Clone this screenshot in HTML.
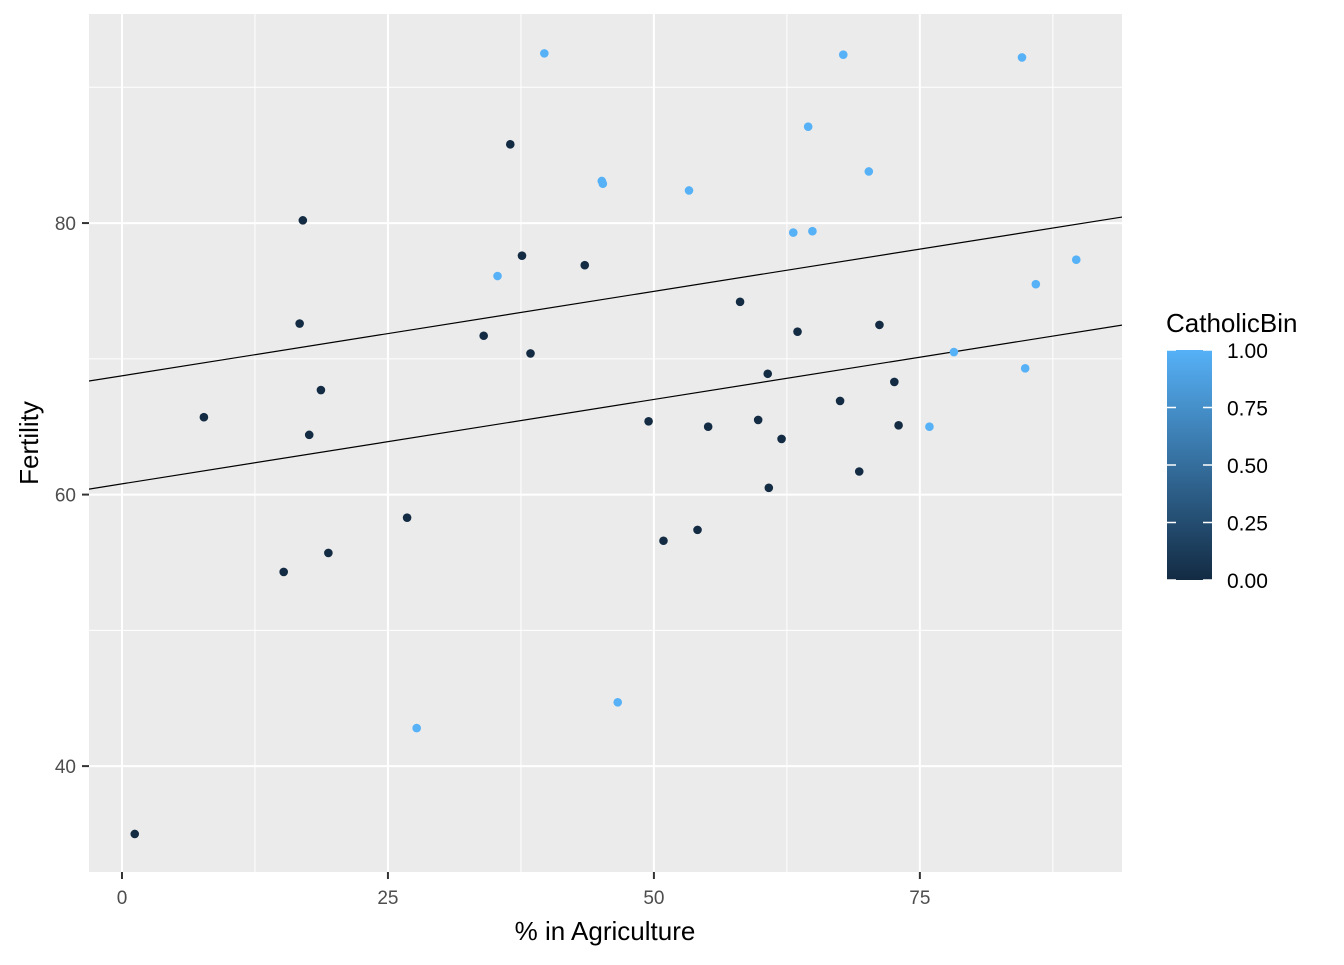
<!DOCTYPE html>
<html><head><meta charset="utf-8"><style>
body{margin:0;background:#fff;font-family:"Liberation Sans",Arial,sans-serif}
</style></head><body>
<svg width="1344" height="960" xmlns="http://www.w3.org/2000/svg">
<defs><linearGradient id="g" x1="0" y1="1" x2="0" y2="0"><stop offset="0" stop-color="#132B43"/><stop offset="1" stop-color="#56B1F7"/></linearGradient>
<clipPath id="cp"><rect x="89" y="14" width="1033" height="858"/></clipPath></defs>
<rect x="89" y="14" width="1033" height="858" fill="#EBEBEB"/>
<g id="grid"></g>
<g id="marks" clip-path="url(#cp)"></g>
<g id="axes"></g>
<text x="605" y="940" font-size="26" text-anchor="middle" fill="#000">% in Agriculture</text>
<text transform="translate(38,443) rotate(-90)" font-size="26" text-anchor="middle" fill="#000">Fertility</text>
<text x="1166" y="332" font-size="26" fill="#000">CatholicBin</text>
<rect x="1167" y="350" width="45" height="230" fill="url(#g)"/>
<g id="legend"></g>
</svg>
<script>
const agri=[17.0,45.1,39.7,36.5,43.5,35.3,70.2,67.8,53.3,45.2,64.5,62.0,67.5,60.7,69.3,72.6,34.0,19.4,15.2,73.0,59.8,55.1,50.9,54.1,71.2,58.1,63.5,60.8,26.8,49.5,85.9,84.9,89.7,78.2,64.9,75.9,84.6,63.1,38.4,7.7,18.7,17.6,16.7,37.6,1.2,46.6,27.7];
const fert=[80.2,83.1,92.5,85.8,76.9,76.1,83.8,92.4,82.4,82.9,87.1,64.1,66.9,68.9,61.7,68.3,71.7,55.7,54.3,65.1,65.5,65.0,56.6,57.4,72.5,74.2,72.0,60.5,58.3,65.4,75.5,69.3,77.3,70.5,79.4,65.0,92.2,79.3,70.4,65.7,67.7,64.4,72.6,77.6,35.0,44.7,42.8];
const cath=[0,1,1,0,0,1,1,1,1,1,1,0,0,0,0,0,0,0,0,0,0,0,0,0,0,0,0,0,0,0,1,1,1,1,1,1,1,1,0,0,0,0,0,0,0,1,1];
const intercepts=[68.75,60.79];
const slope=[0.1244,0.1244];
const xTicks=[0,25,50,75], yTicks=[40,60,80];
const xMin=-3.1,xMax=94.0,yMin=32.2,yMax=95.4;
const X=v=>89+(v-xMin)/(xMax-xMin)*1033, Y=v=>872-(v-yMin)/(yMax-yMin)*858;
const NS="http://www.w3.org/2000/svg";
function mk(t,a,p){const e=document.createElementNS(NS,t);for(const k in a)e.setAttribute(k,a[k]);p.appendChild(e);return e;}
const grid=document.getElementById('grid'),marks=document.getElementById('marks'),axes=document.getElementById('axes'),leg=document.getElementById('legend');
[12.5,37.5,62.5,87.5].forEach(v=>{const l=mk('line',{x1:X(v),x2:X(v),y1:14,y2:872,stroke:'#fff','stroke-width':1},grid);

});
[50,70,90].forEach(v=>{const l=mk('line',{x1:89,x2:1122,y1:Y(v),y2:Y(v),stroke:'#fff','stroke-width':1},grid);

});
xTicks.forEach(v=>{const l=mk('line',{x1:X(v),x2:X(v),y1:14,y2:872,stroke:'#fff','stroke-width':2},grid);


const t=mk('line',{x1:X(v),x2:X(v),y1:872,y2:879,stroke:'#333','stroke-width':2},axes);


const s=mk('text',{x:X(v),y:904,'font-size':19,'text-anchor':'middle',fill:'#4D4D4D'},axes);s.textContent=v;

});
yTicks.forEach(v=>{const l=mk('line',{x1:89,x2:1122,y1:Y(v),y2:Y(v),stroke:'#fff','stroke-width':2},grid);


const t=mk('line',{x1:82,x2:89,y1:Y(v),y2:Y(v),stroke:'#333','stroke-width':2},axes);


const s=mk('text',{x:76,y:Y(v)+7,'font-size':19,'text-anchor':'end',fill:'#4D4D4D'},axes);s.textContent=v;

});
intercepts.forEach((b,i)=>{const l=mk('line',{x1:X(xMin),y1:Y(b+slope[i]*xMin),x2:X(xMax),y2:Y(b+slope[i]*xMax),stroke:'#000','stroke-width':1.2},marks);

});
agri.forEach((a,i)=>{const c=mk('circle',{cx:X(a),cy:Y(fert[i]),r:4.3,fill:cath[i]?'#56B1F7':'#132B43'},marks);

});
['0.00','0.25','0.50','0.75','1.00'].forEach((s,i)=>{const y=580-i*57.5;
mk('line',{x1:1167,x2:1176,y1:y,y2:y,stroke:'#fff','stroke-width':1.5},leg);
mk('line',{x1:1203,x2:1212,y1:y,y2:y,stroke:'#fff','stroke-width':1.5},leg);
const t=mk('text',{x:1227,y:y+8,'font-size':21,fill:'#000'},leg);t.textContent=s;

});
</script>
</body></html>
